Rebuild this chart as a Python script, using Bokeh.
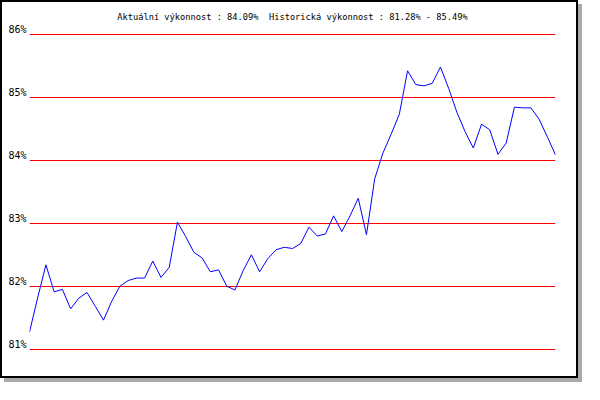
from bokeh.plotting import figure
from bokeh.models import Range1d, LinearAxis, Grid, FixedTicker, ColumnDataSource
from bokeh.embed import file_html
from bokeh.resources import INLINE

# ---- data ----
index = list(range(65))
performance = [81.27, 81.82, 82.34, 81.91, 81.95, 81.64, 81.81, 81.90, 81.68, 81.46,
               81.76, 82.00, 82.09, 82.13, 82.13, 82.40, 82.14, 82.30, 83.02, 82.79,
               82.54, 82.45, 82.23, 82.26, 82.00, 81.94, 82.25, 82.50, 82.23, 82.44,
               82.58, 82.62, 82.60, 82.68, 82.94, 82.80, 82.83, 83.12, 82.87, 83.12,
               83.40, 82.82, 83.71, 84.12, 84.42, 84.74, 85.43, 85.21, 85.19, 85.23,
               85.49, 85.15, 84.77, 84.46, 84.20, 84.58, 84.49, 84.10, 84.28, 84.85,
               84.84, 84.84, 84.66, 84.38, 84.09]
y_ticks = [81, 82, 83, 84, 85, 86]
tick_labels = {81: "81%", 82: "82%", 83: "83%", 84: "84%", 85: "85%", 86: "86%"}
title_text = "Aktuální výkonnost : 84.09%\u00a0 Historická výkonnost : 81.28% - 85.49%"

source = ColumnDataSource(dict(x=index, y=performance))

# 63 px per percent; padding of 6.5 px puts grid lines on pixel centres
ppu = 63.0
pad = 6.5 / ppu
p = figure(width=578, height=378, output_backend="svg", toolbar_location=None,
           x_range=Range1d(0, 64), y_range=Range1d(81 - pad, 86 + pad),
           x_axis_location=None, y_axis_location=None,
           min_border_left=27, min_border_right=25, min_border_top=25, min_border_bottom=25,
           background_fill_color="white", border_fill_color="white",
           outline_line_color=None)
p.center = []

# page frame with a hard drop shadow
p.styles = {"border": "2px solid black", "box-shadow": "4px 4px 0 0 #aaaaaa"}

p.title.text = title_text
p.title.align = "center"
p.title.standoff = 14
p.title.text_font = "DejaVu Sans Mono"
p.title.text_font_size = "8.7px"
p.title.text_font_style = "normal"
p.title.text_color = "black"

# horizontal grid lines
grid = Grid(dimension=1, ticker=FixedTicker(ticks=y_ticks),
            grid_line_color="#ff0000", grid_line_width=1)
p.add_layout(grid, "center")

# shifted range so labels sit just above their grid lines
shift = 5.0 / ppu
p.extra_y_ranges = {"lab": Range1d(81 - pad - shift, 86 + pad - shift)}
ax = LinearAxis(y_range_name="lab", ticker=FixedTicker(ticks=y_ticks),
                major_label_overrides=tick_labels)
ax.axis_line_color = None
ax.major_tick_line_color = None
ax.minor_tick_line_color = None
ax.major_tick_out = 0
ax.major_tick_in = 0
ax.major_label_standoff = 3
ax.major_label_text_font = "DejaVu Sans Mono"
ax.major_label_text_font_size = "10px"
ax.major_label_text_color = "black"
p.add_layout(ax, "left")

p.line("x", "y", source=source, line_color="#0000ff", line_width=1)

open("out.html", "w").write(file_html(p, INLINE))
